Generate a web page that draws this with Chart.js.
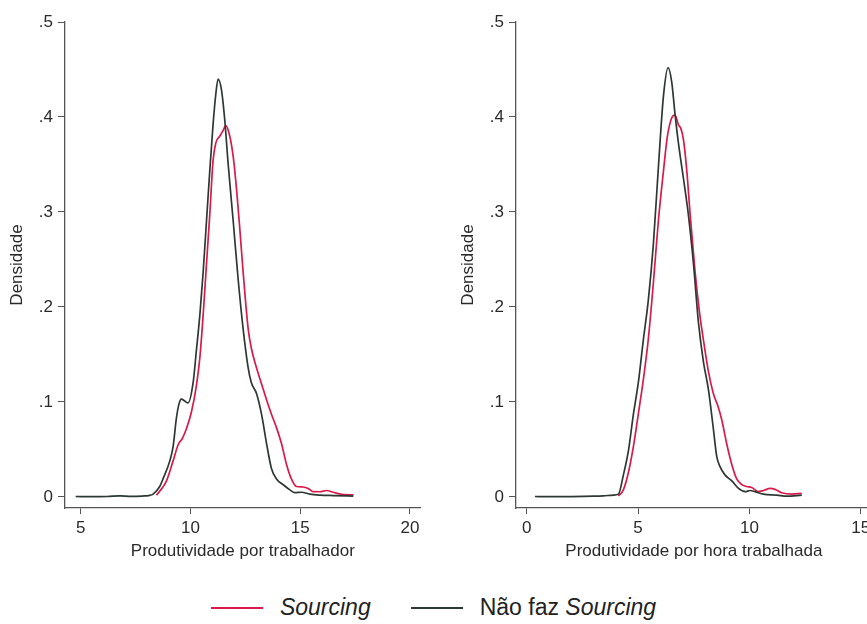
<!DOCTYPE html>
<html>
<head>
<meta charset="utf-8">
<script src="https://cdn.jsdelivr.net/npm/chart.js@4.4.1/dist/chart.umd.min.js"></script>
<style>
  html, body { margin: 0; padding: 0; background: #fff; }
  body { width: 867px; height: 624px; overflow: hidden; position: relative; font-family: "Liberation Sans", Arial, sans-serif; }
  canvas { position: absolute; top: 0; }
  #workerChart { left: 0; }
  #hourChart { left: 451px; }
  .legend { position: absolute; left: 0; top: 596px; width: 867px; display: flex; justify-content: center; align-items: center; font-size: 23px; line-height: 23px; color: #222; }
  .legend .item { display: flex; align-items: center; }
  .legend .item + .item { margin-left: 40px; }
  .legend .swatch { display: inline-block; width: 52px; height: 2px; margin-right: 17px; }
</style>
</head>
<body>
<canvas id="workerChart" width="440" height="580"></canvas>
<canvas id="hourChart" width="440" height="580"></canvas>
<div class="legend">
  <span class="item"><i class="swatch" style="background:#d81b4a"></i><em>Sourcing</em></span>
  <span class="item"><i class="swatch" style="background:#2d3833"></i>Não faz&nbsp;<em>Sourcing</em></span>
</div>
<script>
/* Densidade das duas medidas de produtividade, Sourcing vs Não faz Sourcing */

const SOURCING_COLOR = "#d81b4a";
const NO_SOURCING_COLOR = "#2d3833";

const yTicks = [0, 0.1, 0.2, 0.3, 0.4, 0.5];
const workerTicks = [5, 10, 15, 20];
const hourTicks = [0, 5, 10, 15];

// Produtividade por trabalhador
const workerNoSourcingX = [4.77, 5.5, 6.2, 6.8, 7.3, 7.8, 8.1, 8.30, 8.60, 8.75, 9.06, 9.21, 9.36, 9.48, 9.59, 9.74, 9.89, 10.12, 10.27, 10.43, 10.58, 10.73, 10.88, 11.03, 11.16, 11.26, 11.41, 11.57, 11.72, 11.95, 12.17, 12.40, 12.63, 12.78, 13.01, 13.24, 13.47, 13.69, 13.92, 14.22, 14.53, 14.76, 15.06, 15.44, 15.90, 16.50, 17.42];
const workerNoSourcingY = [0.0005, 0.0003, 0.0005, 0.0012, 0.0006, 0.001, 0.0015, 0.003, 0.011, 0.019, 0.038, 0.053, 0.083, 0.098, 0.103, 0.101, 0.099, 0.120, 0.154, 0.192, 0.237, 0.290, 0.343, 0.392, 0.425, 0.440, 0.429, 0.395, 0.350, 0.290, 0.230, 0.177, 0.136, 0.120, 0.109, 0.087, 0.056, 0.030, 0.019, 0.013, 0.0075, 0.0045, 0.005, 0.003, 0.002, 0.0015, 0.001];
const workerSourcingX = [8.45, 8.60, 8.91, 9.21, 9.44, 9.64, 9.82, 10.05, 10.27, 10.43, 10.58, 10.73, 10.88, 11.03, 11.16, 11.34, 11.49, 11.61, 11.79, 11.95, 12.10, 12.25, 12.40, 12.63, 12.78, 13.01, 13.24, 13.47, 13.69, 13.92, 14.15, 14.38, 14.60, 14.83, 15.14, 15.36, 15.59, 15.90, 16.20, 16.50, 16.96, 17.42];
const workerSourcingY = [0.002, 0.006, 0.017, 0.038, 0.055, 0.062, 0.072, 0.090, 0.117, 0.147, 0.192, 0.245, 0.297, 0.354, 0.373, 0.380, 0.386, 0.391, 0.380, 0.358, 0.324, 0.282, 0.237, 0.177, 0.156, 0.136, 0.119, 0.102, 0.087, 0.073, 0.056, 0.034, 0.019, 0.011, 0.0105, 0.009, 0.0056, 0.0055, 0.0068, 0.005, 0.0025, 0.0023];

// Produtividade por hora trabalhada
const hourNoSourcingX = [0.37, 1.0, 2.0, 3.0, 3.44, 3.89, 4.12, 4.34, 4.57, 4.79, 5.01, 5.24, 5.46, 5.69, 5.91, 6.14, 6.35, 6.51, 6.66, 6.81, 7.04, 7.26, 7.49, 7.71, 7.93, 8.16, 8.38, 8.53, 8.68, 8.91, 9.21, 9.51, 9.81, 10.03, 10.25, 10.63, 11.23, 11.68, 12.35];
const hourNoSourcingY = [0.0005, 0.0003, 0.0004, 0.0008, 0.0012, 0.002, 0.003, 0.023, 0.049, 0.087, 0.120, 0.166, 0.207, 0.267, 0.346, 0.422, 0.452, 0.437, 0.403, 0.373, 0.335, 0.297, 0.245, 0.184, 0.143, 0.113, 0.072, 0.043, 0.032, 0.023, 0.017, 0.009, 0.0056, 0.0068, 0.0056, 0.003, 0.002, 0.0008, 0.002];
const hourSourcingX = [4.12, 4.34, 4.57, 4.79, 5.01, 5.24, 5.46, 5.69, 5.91, 6.14, 6.32, 6.51, 6.66, 6.81, 6.92, 7.04, 7.19, 7.34, 7.56, 7.75, 7.93, 8.16, 8.38, 8.61, 8.76, 8.98, 9.21, 9.43, 9.66, 9.88, 10.10, 10.40, 10.63, 10.93, 11.15, 11.45, 11.90, 12.35];
const hourSourcingY = [0.001, 0.0075, 0.026, 0.053, 0.087, 0.124, 0.166, 0.226, 0.290, 0.343, 0.380, 0.399, 0.402, 0.392, 0.388, 0.376, 0.343, 0.297, 0.237, 0.196, 0.166, 0.132, 0.109, 0.094, 0.081, 0.056, 0.034, 0.019, 0.013, 0.011, 0.010, 0.0056, 0.0068, 0.009, 0.008, 0.0045, 0.003, 0.0038];

Chart.defaults.font.family = '"Liberation Sans", Arial, sans-serif';
Chart.defaults.color = "#2a2a2a";

function toPoints(xs, ys) {
  return xs.map((x, i) => ({ x: x, y: ys[i] }));
}

function yLabel(value) {
  if (value === 0) return "0";
  return value.toFixed(1).replace(/^0/, "");
}

function densityChart(canvasId, opts) {
  const axisColor = "#555";
  return new Chart(document.getElementById(canvasId), {
    type: "line",
    data: {
      datasets: [
        { label: "Não faz Sourcing", data: toPoints(opts.noX, opts.noY), borderColor: NO_SOURCING_COLOR },
        { label: "Sourcing", data: toPoints(opts.yesX, opts.yesY), borderColor: SOURCING_COLOR },
      ],
    },
    options: {
      responsive: false,
      animation: false,
      parsing: true,
      elements: {
        point: { radius: 0 },
        line: { borderWidth: 1.7, tension: 0.4, cubicInterpolationMode: "monotone", fill: false },
      },
      layout: { padding: { top: 22, left: 0, right: 19.3, bottom: 0 } },
      plugins: { legend: { display: false }, tooltip: { enabled: false } },
      scales: {
        x: {
          type: "linear",
          min: opts.xMin,
          max: opts.xMax,
          afterBuildTicks: (scale) => { scale.ticks = opts.xTicks.map((v) => ({ value: v })); },
          afterFit: (scale) => { scale.height = 72; },
          grid: { display: true, drawOnChartArea: false, drawTicks: true, tickLength: 6, tickColor: axisColor, tickWidth: 1 },
          border: { display: true, color: axisColor, width: 1.3 },
          ticks: { font: { size: 17 }, padding: 4, maxRotation: 0, color: "#2a2a2a" },
          title: { display: true, text: opts.xTitle, font: { size: 17 }, padding: { top: 0, bottom: 18 }, color: "#2a2a2a" },
        },
        y: {
          type: "linear",
          min: -0.0116,
          max: 0.5,
          afterBuildTicks: (scale) => { scale.ticks = yTicks.map((v) => ({ value: v })); },
          afterFit: (scale) => { scale.width = 65; },
          grid: { display: true, drawOnChartArea: false, drawTicks: true, tickLength: 7, tickColor: axisColor, tickWidth: 1 },
          border: { display: true, color: axisColor, width: 1.3 },
          ticks: { font: { size: 17 }, padding: 5, callback: yLabel, color: "#2a2a2a" },
          title: { display: true, text: "Densidade", font: { size: 17 }, padding: { top: 7, bottom: 0 }, color: "#2a2a2a" },
        },
      },
    },
  });
}

densityChart("workerChart", {
  noX: workerNoSourcingX, noY: workerNoSourcingY,
  yesX: workerSourcingX, yesY: workerSourcingY,
  xMin: 4.285, xMax: 20.49, xTicks: workerTicks,
  xTitle: "Produtividade por trabalhador",
});

densityChart("hourChart", {
  noX: hourNoSourcingX, noY: hourNoSourcingY,
  yesX: hourSourcingX, yesY: hourSourcingY,
  xMin: -0.48, xMax: 15.49, xTicks: hourTicks,
  xTitle: "Produtividade por hora trabalhada",
});
</script>
</body>
</html>
